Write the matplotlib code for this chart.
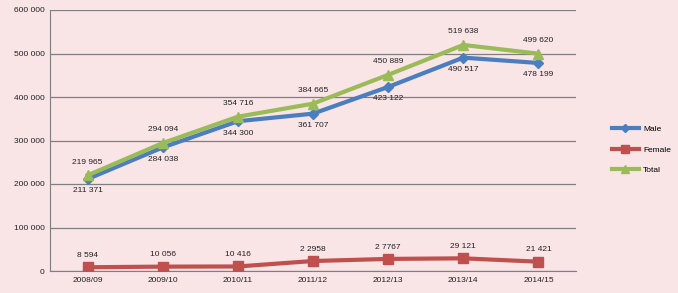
import matplotlib.pyplot as plt

years = ["2008/09", "2009/10", "2010/11", "2011/12", "2012/13", "2013/14", "2014/15"]
male = [211371, 284038, 344300, 361707, 423122, 490517, 478199]
female = [8594, 10056, 10416, 22958, 27767, 29121, 21421]
total = [219965, 294094, 354716, 384665, 450889, 519638, 499620]

male_labels = ["211 371", "284 038", "344 300", "361 707", "423 122", "490 517", "478 199"]
female_labels = ["8 594", "10 056", "10 416", "2 2958", "2 7767", "29 121", "21 421"]
total_labels = ["219 965", "294 094", "354 716", "384 665", "450 889", "519 638", "499 620"]

yticks = [0, 100000, 200000, 300000, 400000, 500000, 600000]
ytick_labels = ["0", "100 000", "200 000", "300 000", "400 000", "500 000", "600 000"]

bg = "#f9e4e6"
c_male = "#4a7ebf"
c_female = "#c0504d"
c_total = "#9bbb59"

plt.rcParams['font.family'] = ['Liberation Sans Narrow', 'Liberation Sans', 'DejaVu Sans']
fs = 6

fig = plt.figure(figsize=(6.78, 2.93), dpi=100, facecolor=bg)
ax = fig.add_axes([50 / 678, 22 / 293, 526 / 678, 261 / 293], facecolor=bg)

x = list(range(len(years)))
ax.plot(x, male, color=c_male, lw=3, marker="D", ms=5, label="Male", zorder=3)
ax.plot(x, female, color=c_female, lw=3, marker="s", ms=6.5, label="Female", zorder=3)
ax.plot(x, total, color=c_total, lw=3, marker="^", ms=7, label="Total", zorder=3)

for i in x:
    ax.annotate(total_labels[i], (i, total[i]), xytext=(0, 7), textcoords="offset points",
                ha="center", va="bottom", fontsize=fs, color="#222222")
    ax.annotate(male_labels[i], (i, male[i]), xytext=(0, -6), textcoords="offset points",
                ha="center", va="top", fontsize=fs, color="#222222")
    ax.annotate(female_labels[i], (i, female[i]), xytext=(0, 6), textcoords="offset points",
                ha="center", va="bottom", fontsize=fs, color="#222222")

ax.set_xlim(-0.5, len(years) - 0.5)
ax.set_ylim(0, 600000)
ax.set_xticks(x)
ax.set_xticklabels(years, fontsize=fs)
ax.set_yticks(yticks)
ax.set_yticklabels(ytick_labels, fontsize=fs)
ax.tick_params(length=0, pad=4, colors="#222222")
ax.yaxis.grid(True, color="#7f7f7f", lw=0.9)
ax.set_axisbelow(True)
for s in ["top", "right"]:
    ax.spines[s].set_visible(False)
ax.spines["left"].set_color("#7f7f7f")
ax.spines["bottom"].set_color("#7f7f7f")

leg = fig.legend(loc="upper left", bbox_to_anchor=(604 / 678, 1 - 118 / 293), frameon=False,
                 fontsize=fs, handlelength=3.3, labelspacing=1.5, handletextpad=0.5,
                 markerscale=0.8)

fig.savefig("out.png", dpi=100, facecolor=bg)
